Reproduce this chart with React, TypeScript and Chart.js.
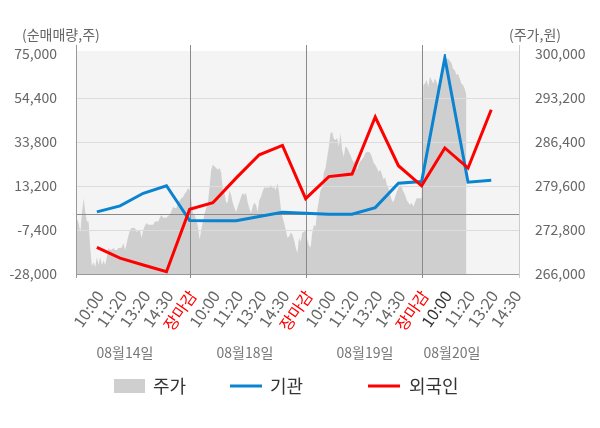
import { useEffect, useRef } from 'react'
import Chart from 'chart.js/auto'

const FONT = '"Noto Sans CJK KR", "Noto Sans", sans-serif'

// x축: 하루 = 5칸 (10:00, 11:20, 13:20, 14:30, 장마감)
const timeLabels = [
  '10:00', '11:20', '13:20', '14:30', '장마감',
  '10:00', '11:20', '13:20', '14:30', '장마감',
  '10:00', '11:20', '13:20', '14:30', '장마감',
  '10:00', '11:20', '13:20', '14:30',
]
const dateLabels = ['08월14일', '08월18일', '08월19일', '08월20일']

const volumeTicks = [-28000, -7400, 13200, 33800, 54400, 75000]
const priceTicks = [266000, 272800, 279600, 286400, 293200, 300000]

// 순매매량 (주)
const institution = [1100, 3900, 9800, 13300, -3000, -3100, -3100, -1100, 900, 500, 0, 0, 3100, 14500, 15300, 73200, 15000, 15900]
const foreign = [-15500, -20600, -23800, -26900, 2300, 5400, 16900, 27800, 32200, 7300, 17600, 18800, 45500, 22700, 13300, 31000, 21600, 48900]

// 주가 (원), 하루 70개 구간
const priceDay1 = [
  270400, 274500, 273900, 272400, 275400, 277700, 275600, 274100, 274100, 270000,
  267200, 267800, 267100, 268600, 267400, 268600, 267400, 268100, 267400, 268600,
  270000, 269700, 269800, 270000, 269700, 269700, 270000, 270000, 270100, 270800,
  269700, 270800, 271900, 272800, 273100, 273100, 273100, 272500, 272700, 272800,
  271600, 272800, 273500, 273900, 273600, 273600, 273600, 273600, 274100, 274100,
  274100, 274700, 275100, 274700, 274700, 274700, 275000, 275100, 275700, 276400,
  276200, 276200, 277000, 277400, 277700, 277900, 278400, 278700, 279300, 279000,
]
const priceDay2 = [
  277400, 275400, 275100, 274400, 273300, 271300, 272800, 274100, 275300, 276200,
  277000, 279400, 282100, 282900, 282600, 282400, 282100, 282400, 281700, 279000,
  278500, 277000, 277100, 279000, 278200, 277000, 276200, 275600, 276400, 277100,
  277900, 278500, 278200, 278500, 277100, 276200, 275400, 276400, 277000, 276700,
  275600, 277400, 277900, 278700, 279400, 279300, 279400, 279300, 279800, 279300,
  279400, 279000, 280100, 278500, 276200, 274800, 273900, 272800, 271600, 271800,
  272400, 272100, 271300, 270100, 269200, 271600, 271000, 272400, 272500, 272800,
]
const priceDay3 = [
  271300, 270400, 270100, 272400, 273600, 273300, 275900, 277400, 279000, 279400,
  281700, 282400, 284100, 285700, 287800, 287900, 286900, 286700, 287000, 285700,
  287800, 285200, 284100, 285700, 285500, 284900, 284400, 283700, 283200, 283700,
  282100, 282900, 283400, 283700, 284100, 284700, 284900, 284900, 284700, 284100,
  283200, 282900, 282400, 281800, 282100, 281400, 280600, 280900, 279800, 279300,
  278200, 277400, 277100, 277900, 278700, 279300, 279800, 279400, 278700, 278200,
  277400, 277000, 276700, 277000, 276400, 277100, 277700, 277700, 277700, 277700,
]
const priceDay4 = [
  295200, 295400, 296000, 294900, 296500, 296000, 295400, 296200, 295700, 294900,
  295700, 296200, 297500, 298400, 299200, 299300, 298900, 298600, 297700, 297500,
  296800, 296900, 296200, 295400, 295200, 294600, 293700,
]

const SLOTS_PER_DAY = 5
const SAMPLES_PER_DAY = 70
const priceDays = [priceDay1, priceDay2, priceDay3, priceDay4]
const pricePoints = priceDays.flatMap((day, d) =>
  day.map((p, i) => ({ x: d * SLOTS_PER_DAY + ((i + 1) * SLOTS_PER_DAY) / SAMPLES_PER_DAY, y: p }))
)

const decor = {
  id: 'decor',
  beforeDraw(chart: any) {
    const { ctx, chartArea: a } = chart
    ctx.save()
    ctx.fillStyle = '#f4f4f4'
    ctx.fillRect(a.left, a.top - 3, a.right - a.left, a.bottom - a.top + 3)
    ctx.restore()
  },
  // 그리드는 주가 영역 위, 선 아래
  afterDatasetDraw(chart: any, args: any) {
    if (args.index !== 0) return
    const { ctx, chartArea: a, scales } = chart
    const line = (x1: number, y1: number, x2: number, y2: number, color: string) => {
      ctx.strokeStyle = color
      ctx.beginPath()
      ctx.moveTo(x1, y1)
      ctx.lineTo(x2, y2)
      ctx.stroke()
    }
    ctx.save()
    ctx.lineWidth = 1
    volumeTicks.forEach((v, i) => {
      if (i === volumeTicks.length - 1) return
      const py = Math.round(scales.y.getPixelForValue(v)) + 0.5
      line(a.left, py, a.right, py, i === 0 ? '#999' : '#dcdcdc')
    })
    const zy = Math.round(scales.y.getPixelForValue(0)) + 0.5
    line(a.left, zy, a.right, zy, '#8a8a8a')
    timeLabels.forEach((t, i) => {
      if (t !== '장마감') return
      const px = Math.round(scales.x.getPixelForValue(i + 1)) + 0.5
      line(px, a.top - 9, px, a.bottom + 4, '#8a8a8a')
    })
    line(Math.round(a.left) + 0.5, a.top - 9, Math.round(a.left) + 0.5, a.bottom + 4, '#999')
    line(Math.round(a.right) - 0.5, a.top - 9, Math.round(a.right) - 0.5, a.bottom + 4, '#ccc')
    ctx.restore()
  },
  afterDraw(chart: any) {
    const { ctx } = chart
    ctx.save()
    ctx.textBaseline = 'middle'
    ctx.font = `14px ${FONT}`
    ctx.fillStyle = '#666'
    ctx.textAlign = 'left'
    ctx.fillText('(순매매량,주)', 22, 35)
    ctx.fillText('(주가,원)', 509, 35)

    ctx.fillStyle = '#777'
    ctx.textAlign = 'center'
    const dateX = [125, 245, 365, 452]
    dateLabels.forEach((d, i) => ctx.fillText(d, dateX[i], 353))

    // 범례
    ctx.font = `18px ${FONT}`
    ctx.textAlign = 'left'
    ctx.fillStyle = '#cfcfcf'
    ctx.fillRect(114, 379, 31, 14)
    ctx.fillStyle = '#333'
    ctx.fillText('주가', 153, 386)
    ctx.lineWidth = 3
    ctx.strokeStyle = '#0a83d1'
    ctx.beginPath()
    ctx.moveTo(230, 386)
    ctx.lineTo(262, 386)
    ctx.stroke()
    ctx.fillText('기관', 270, 386)
    ctx.strokeStyle = '#ff0000'
    ctx.beginPath()
    ctx.moveTo(368, 386)
    ctx.lineTo(400, 386)
    ctx.stroke()
    ctx.fillText('외국인', 409, 386)
    ctx.restore()
  },
}

export default function App() {
  const chartRef = useRef<HTMLCanvasElement>(null)
  const chartInstance = useRef<Chart | null>(null)

  useEffect(() => {
    if (!chartRef.current) return
    if (chartInstance.current) chartInstance.current.destroy()

    Chart.defaults.font.family = FONT

    chartInstance.current = new Chart(chartRef.current, {
      type: 'line',
      data: {
        datasets: [
          {
            label: '주가',
            data: pricePoints,
            yAxisID: 'yPrice',
            fill: 'start',
            backgroundColor: '#cfcfcf',
            borderWidth: 0,
            pointRadius: 0,
            order: 3,
          },
          {
            label: '기관',
            data: institution.map((v, i) => ({ x: i + 1, y: v })),
            yAxisID: 'y',
            borderColor: '#0a83d1',
            borderWidth: 3,
            pointRadius: 0,
            fill: false,
            order: 2,
          },
          {
            label: '외국인',
            data: foreign.map((v, i) => ({ x: i + 1, y: v })),
            yAxisID: 'y',
            borderColor: '#ff0000',
            borderWidth: 3,
            pointRadius: 0,
            fill: false,
            order: 1,
          },
        ],
      },
      options: {
        animation: false,
        responsive: true,
        maintainAspectRatio: false,
        layout: { padding: { top: 54, left: 0, right: 0, bottom: 0 } },
        plugins: { legend: { display: false }, tooltip: { enabled: false } },
        scales: {
          x: {
            type: 'linear',
            min: 0.1,
            max: 19.24,
            grid: { display: false },
            border: { display: false },
            afterBuildTicks: (scale: any) => {
              scale.ticks = timeLabels.map((_, i) => ({ value: i + 1 }))
            },
            afterFit: (scale: any) => {
              scale.height = 154
            },
            ticks: {
              autoSkip: false,
              minRotation: 55,
              maxRotation: 55,
              padding: 5,
              labelOffset: 3,
              font: { size: 16 },
              color: (c: any) => (timeLabels[c.index] === '장마감' ? '#ff0000' : c.index === 15 ? '#333' : '#666'),
              callback: (v: any) => timeLabels[Math.round(Number(v)) - 1],
            },
          },
          y: {
            position: 'left',
            min: volumeTicks[0],
            max: volumeTicks[volumeTicks.length - 1],
            grid: { display: false },
            border: { display: false },
            afterBuildTicks: (scale: any) => {
              scale.ticks = volumeTicks.map((v) => ({ value: v }))
            },
            afterFit: (scale: any) => {
              scale.width = 76
            },
            ticks: {
              padding: 11,
              font: { size: 14 },
              color: '#666',
              callback: (v: any) => Number(v).toLocaleString('en-US'),
            },
          },
          yPrice: {
            position: 'right',
            min: priceTicks[0],
            max: priceTicks[priceTicks.length - 1],
            grid: { display: false },
            border: { display: false },
            afterBuildTicks: (scale: any) => {
              scale.ticks = priceTicks.map((v) => ({ value: v }))
            },
            afterFit: (scale: any) => {
              scale.width = 80
            },
            ticks: {
              padding: 7,
              font: { size: 14 },
              color: '#666',
              callback: (v: any) => Number(v).toLocaleString('en-US'),
            },
          },
        },
      },
      plugins: [decor],
    } as any)

    return () => {
      if (chartInstance.current) {
        chartInstance.current.destroy()
        chartInstance.current = null
      }
    }
  }, [])

  return (
    <div style={{ position: 'fixed', left: 0, top: 0, width: 600, height: 428, background: '#fff' }}>
      <canvas ref={chartRef} />
    </div>
  )
}
